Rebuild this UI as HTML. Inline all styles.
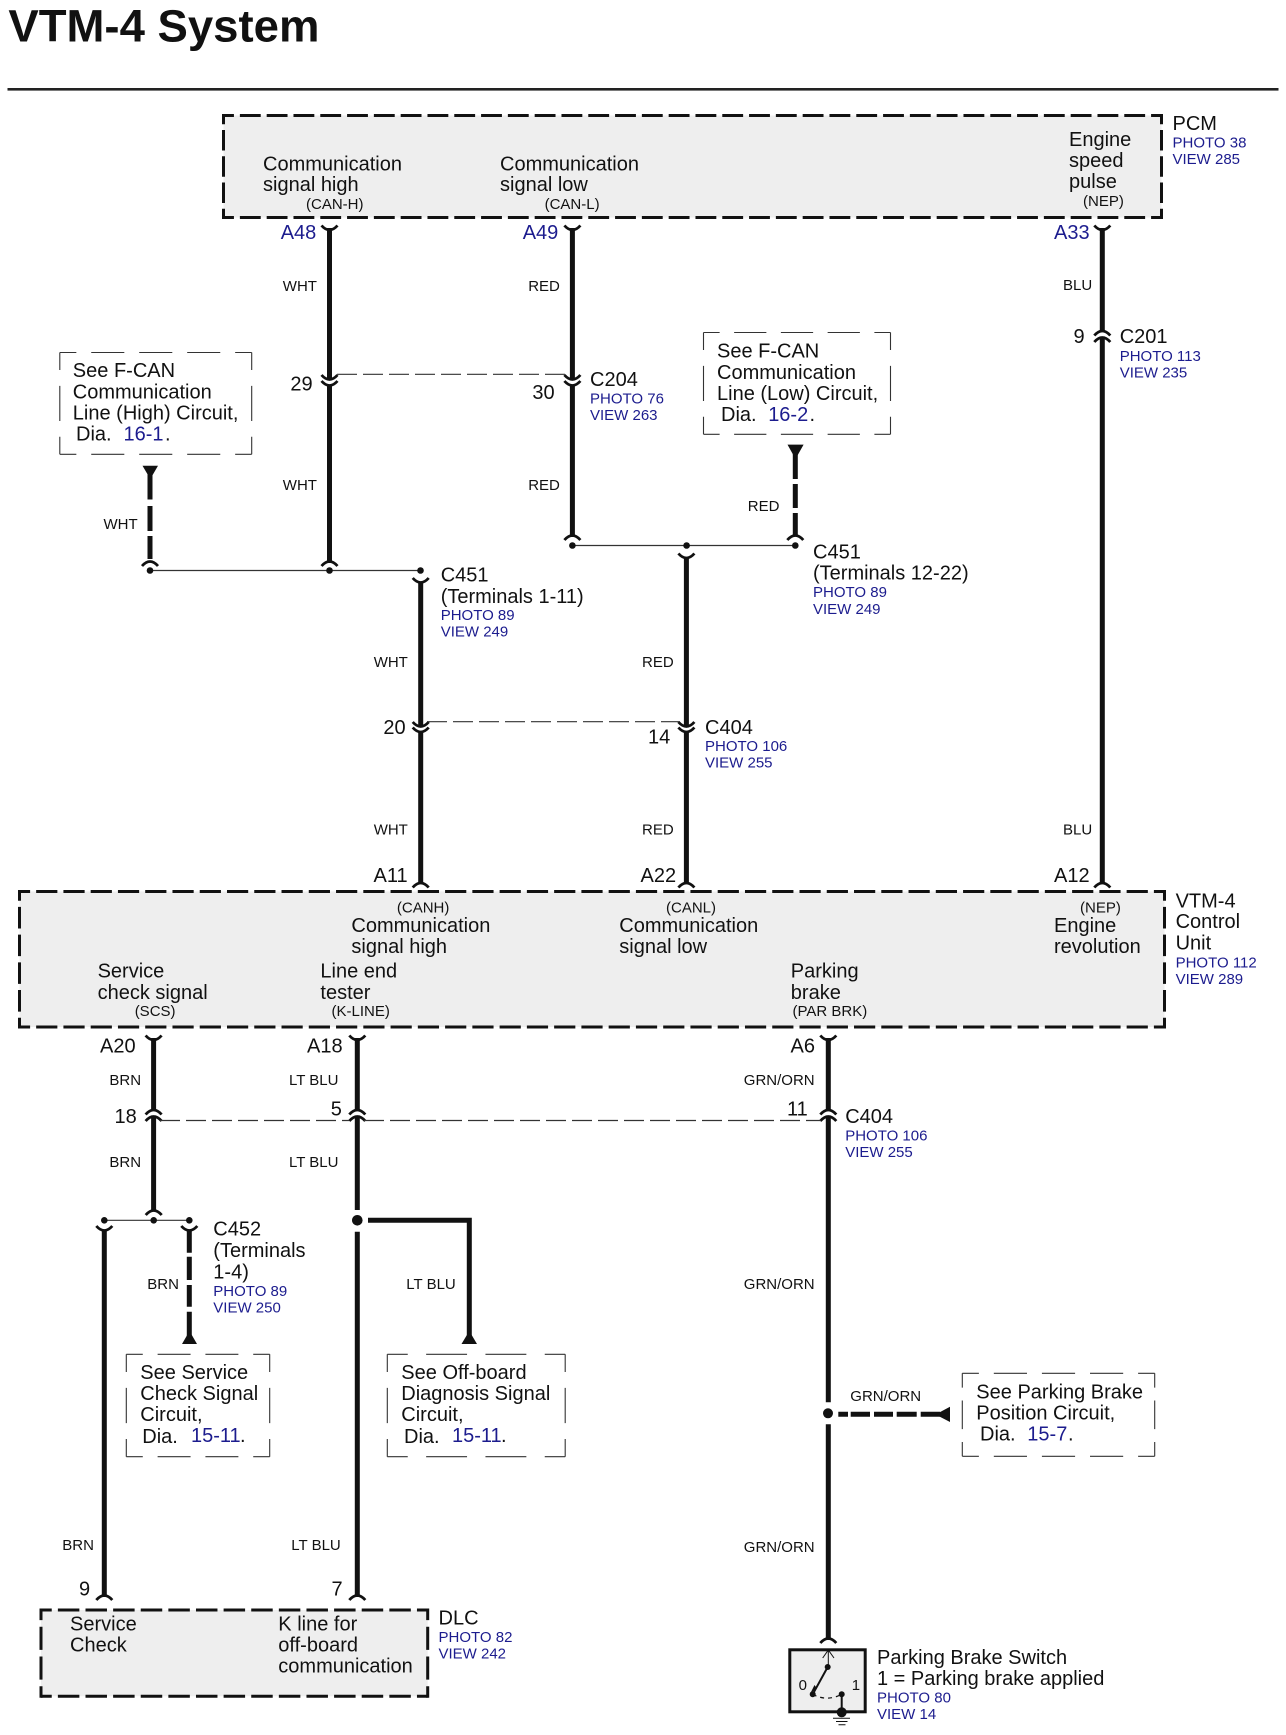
<!DOCTYPE html>
<html>
<head>
<meta charset="utf-8">
<title>VTM-4 System</title>
<style>
html,body{margin:0;padding:0;background:#fff;}
svg{display:block;}
text{font-family:"Liberation Sans",Arial,sans-serif;fill:#111;font-size:20px;}
.s{font-size:15px;}
.b{fill:#1c1c8e;}
.fill{fill:#eeeeee;stroke:none;}
.box{fill:none;stroke:#111;stroke-width:3;stroke-dasharray:21 6;stroke-dashoffset:10.5;}
.thin{fill:none;stroke:#333;stroke-width:1.1;stroke-dasharray:2 .9;stroke-dashoffset:1;}
.w{fill:none;stroke:#111;stroke-width:5;}
.c{fill:none;stroke:#111;stroke-width:2.8;}
.l{fill:none;stroke:#333;stroke-width:1.2;}
.d{fill:none;stroke:#333;stroke-width:1.2;stroke-dasharray:20 6;}
</style>
</head>
<body>
<svg width="1286" height="1735" viewBox="0 0 1286 1735" xmlns="http://www.w3.org/2000/svg">
<rect width="1286" height="1735" fill="#fff"/>

<text x="8.4" y="41.5" style="font-size:45.5px;font-weight:bold">VTM-4 System</text>
<rect x="7.5" y="88" width="1271" height="2.6" fill="#222"/>

<!-- component boxes -->
<rect class="fill" x="223.5" y="115.5" width="938" height="102"/>
<path class="box" pathLength="945" d="M223.5 115.5H1161.5"/>
<path class="box" pathLength="945" d="M223.5 217.5H1161.5"/>
<path class="box" pathLength="108" d="M223.5 114V219"/>
<path class="box" pathLength="108" d="M1161.5 114V219"/>

<rect class="fill" x="19.5" y="891.5" width="1145" height="135.5"/>
<path class="box" pathLength="1134" d="M19.5 891.5H1164.5"/>
<path class="box" pathLength="1134" d="M19.5 1027H1164.5"/>
<path class="box" pathLength="135" d="M19.5 890V1028.5"/>
<path class="box" pathLength="135" d="M1164.5 890V1028.5"/>

<rect class="fill" x="41" y="1610" width="386.7" height="86.3"/>
<path class="box" pathLength="378" d="M41 1610H427.7"/>
<path class="box" pathLength="378" d="M41 1696.3H427.7"/>
<path class="box" pathLength="81" d="M41 1608.5V1697.8"/>
<path class="box" pathLength="81" d="M427.7 1608.5V1697.8"/>

<rect x="789.8" y="1649.8" width="75.4" height="62" fill="#eeeeee" stroke="#111" stroke-width="3"/>

<!-- reference boxes -->
<path class="thin" pathLength="11.6" d="M59.8 352.5H251.7"/><path class="thin" pathLength="11.6" d="M59.8 454.3H251.7"/><path class="thin" pathLength="5.8" d="M59.8 352.5V454.3"/><path class="thin" pathLength="5.8" d="M251.7 352.5V454.3"/>
<path class="thin" pathLength="11.6" d="M703.5 332.5H890.5"/><path class="thin" pathLength="11.6" d="M703.5 434.3H890.5"/><path class="thin" pathLength="5.8" d="M703.5 332.5V434.3"/><path class="thin" pathLength="5.8" d="M890.5 332.5V434.3"/>
<path class="thin" pathLength="8.7" d="M126.3 1354.3H269.7"/><path class="thin" pathLength="8.7" d="M126.3 1456.7H269.7"/><path class="thin" pathLength="5.8" d="M126.3 1354.3V1456.7"/><path class="thin" pathLength="5.8" d="M269.7 1354.3V1456.7"/>
<path class="thin" pathLength="8.7" d="M387.3 1354.3H565.2"/><path class="thin" pathLength="8.7" d="M387.3 1456.7H565.2"/><path class="thin" pathLength="5.8" d="M387.3 1354.3V1456.7"/><path class="thin" pathLength="5.8" d="M565.2 1354.3V1456.7"/>
<path class="thin" pathLength="11.6" d="M962.3 1373.3H1154.7"/><path class="thin" pathLength="11.6" d="M962.3 1456.3H1154.7"/><path class="thin" pathLength="5.8" d="M962.3 1373.3V1456.3"/><path class="thin" pathLength="5.8" d="M1154.7 1373.3V1456.3"/>

<!-- solid wires -->
<path class="w" d="M329.5 228V379.5M329.5 385.5V563M572.4 228V379.5M572.4 385.5V537M1102.3 228V331M1102.3 338V884M420.7 582V726.5M420.7 732V884M686.4 557V726.5M686.4 732V884M153.6 1038V1110M153.6 1117V1210M357.3 1038V1110M357.3 1117V1210M357.3 1231.7V1597M828.3 1038V1110M828.3 1117V1402.3M828.3 1424.3V1640M104.3 1230V1597M368 1220.3H469.3V1336"/>

<!-- dashed thick wires -->
<path class="w" d="M150 474V499.5M150 506V531M150 536V559M795.3 454V479M795.3 484V508M795.3 513V534.5M189.3 1230V1252.7M189.3 1256.7V1280M189.3 1285V1306.7M189.3 1311.7V1336M838.3 1414.3H848M850.7 1414.3H870M874 1414.3H893M896.7 1414.3H916.7M920.7 1414.3H940"/>

<!-- arrow triangles -->
<path fill="#111" d="M142.5 465.7H158L150.3 479ZM787.5 444.6H803.6L795.5 459ZM182 1344H197L189.5 1331ZM461.5 1344H477L469.3 1331ZM950 1406.8V1422L935.5 1414.5Z"/>

<!-- connector cups -->
<path class="c" d="M321.5 225.5q8 9 16 0M564.4 225.5q8 9 16 0M1094.3 225.5q8 9 16 0M321.5 375q8 9 16 0M321.5 381q8 9 16 0M564.4 375q8 9 16 0M564.4 381q8 9 16 0M412.7 578q8 9 16 0M678.4 553.5q8 9 16 0M412.7 722q8 9 16 0M412.7 727.5q8 9 16 0M678.4 722q8 9 16 0M678.4 727.5q8 9 16 0M145.6 1035.5q8 9 16 0M349.3 1035.5q8 9 16 0M820.3 1035.5q8 9 16 0M96.3 1226q8 9 16 0M181.3 1226q8 9 16 0"/>
<!-- connector caps -->
<path class="c" d="M1094.3 335.5q8 -9 16 0M1094.3 342q8 -9 16 0M142 566q8 -9 16 0M321.5 566q8 -9 16 0M564.4 540q8 -9 16 0M787.3 540q8 -9 16 0M145.7 1215q8 -9 16 0M412.7 887.5q8 -9 16 0M678.4 887.5q8 -9 16 0M1094.3 887.5q8 -9 16 0M145.6 1114.5q8 -9 16 0M145.6 1121q8 -9 16 0M349.3 1114.5q8 -9 16 0M349.3 1121q8 -9 16 0M820.3 1114.5q8 -9 16 0M820.3 1121q8 -9 16 0M96.3 1600q8 -9 16 0M349.3 1600q8 -9 16 0M820.3 1643q8 -9 16 0"/>

<!-- thin bus lines -->
<path class="l" d="M150 570.5H420.5M572.4 545.5H795.3M104.3 1220.3H189.3"/>
<!-- dashed shield lines -->
<path class="d" d="M337 374.3H565M427 721.7H680M160 1120.5H349M364 1120.5H821"/>

<!-- dots -->
<g fill="#111">
<circle cx="150" cy="570.5" r="3.3"/><circle cx="329.5" cy="570.5" r="3.3"/><circle cx="420.5" cy="570.5" r="3.3"/>
<circle cx="572.4" cy="545.5" r="3.3"/><circle cx="686.6" cy="545.5" r="3.3"/><circle cx="795.3" cy="545.5" r="3.3"/>
<circle cx="104.3" cy="1220.3" r="3.3"/><circle cx="153.7" cy="1220.3" r="3.3"/><circle cx="189.3" cy="1220.3" r="3.3"/>
<circle cx="357.3" cy="1220.3" r="5.3"/><circle cx="828" cy="1413.3" r="5"/>
</g>

<!-- switch -->
<g fill="#111" stroke="none">
<circle cx="827.7" cy="1667" r="3"/><circle cx="812.7" cy="1694.3" r="3"/><circle cx="841.7" cy="1694.3" r="3"/><circle cx="841.7" cy="1712.3" r="5"/>
<path d="M810.5 1693L817 1688.5L814.5 1685Z"/>
</g>
<path fill="none" stroke="#111" stroke-width="1" d="M828.3 1650V1667M822.7 1658L828.3 1650L834 1658"/>
<path fill="none" stroke="#111" stroke-width="2" d="M827.7 1667L812.7 1694.3M841.7 1694.3V1712"/>
<path fill="none" stroke="#111" stroke-width="1.2" stroke-dasharray="4 4" d="M812.7 1694.3Q827 1702 841.7 1694.3"/>
<path fill="none" stroke="#111" stroke-width="1" d="M833 1718.3H850M836 1721.5H847.5M838.5 1724.7H845.5"/>

<!-- PCM -->
<text x="263" y="170.3">Communication</text><text x="263" y="191">signal high</text><text class="s" x="306" y="209">(CAN-H)</text>
<text x="500" y="170.3">Communication</text><text x="500" y="191">signal low</text><text class="s" x="544.6" y="209">(CAN-L)</text>
<text x="1069" y="146">Engine</text><text x="1069" y="167.2">speed</text><text x="1069" y="188.2">pulse</text><text class="s" x="1083" y="206">(NEP)</text>
<text x="1172.5" y="130">PCM</text><text class="s b" x="1172.5" y="147.3">PHOTO 38</text><text class="s b" x="1172.5" y="164">VIEW 285</text>
<text class="b" x="280.7" y="238.8">A48</text><text class="b" x="522.7" y="238.8">A49</text><text class="b" x="1054" y="238.8">A33</text>

<!-- upper wire labels -->
<text class="s" x="282.8" y="291">WHT</text><text class="s" x="528.2" y="291">RED</text><text class="s" x="1063" y="290">BLU</text>
<text x="290.4" y="390.4">29</text><text x="532.4" y="399.2">30</text>
<text x="590" y="385.8">C204</text><text class="s b" x="590" y="403.7">PHOTO 76</text><text class="s b" x="590" y="420.2">VIEW 263</text>
<text class="s" x="282.8" y="490">WHT</text><text class="s" x="528.2" y="490">RED</text>
<text x="1073.5" y="343.2">9</text><text x="1119.7" y="343.2">C201</text><text class="s b" x="1119.7" y="361.2">PHOTO 113</text><text class="s b" x="1119.7" y="377.6">VIEW 235</text>

<text x="72.8" y="377.2">See F-CAN</text><text x="72.8" y="398.3">Communication</text><text x="72.8" y="419.5">Line (High) Circuit,</text><text x="76" y="440.7">Dia.</text><text class="b" x="123.5" y="440.7">16-1</text><text x="165" y="440.7">.</text>
<text class="s" x="103.5" y="529">WHT</text>

<text x="717" y="357.7">See F-CAN</text><text x="717" y="378.8">Communication</text><text x="717" y="400">Line (Low) Circuit,</text><text x="721" y="420.9">Dia.</text><text class="b" x="768.2" y="420.9">16-2</text><text x="809.5" y="420.9">.</text>
<text class="s" x="747.8" y="511">RED</text>

<text x="440.7" y="581.7">C451</text><text x="440.7" y="602.8">(Terminals 1-11)</text><text class="s b" x="440.7" y="620">PHOTO 89</text><text class="s b" x="440.7" y="636.4">VIEW 249</text>
<text x="813" y="558.3">C451</text><text x="813" y="579.3">(Terminals 12-22)</text><text class="s b" x="813" y="597">PHOTO 89</text><text class="s b" x="813" y="613.8">VIEW 249</text>

<text class="s" x="373.7" y="667">WHT</text><text class="s" x="642" y="667">RED</text>
<text x="383.4" y="734">20</text><text x="648" y="743.5">14</text>
<text x="705" y="734">C404</text><text class="s b" x="705" y="751.2">PHOTO 106</text><text class="s b" x="705" y="767.6">VIEW 255</text>
<text class="s" x="373.7" y="834.6">WHT</text><text class="s" x="642" y="834.6">RED</text><text class="s" x="1063" y="834.6">BLU</text>
<text x="373.5" y="882">A11</text><text x="640.5" y="882">A22</text><text x="1054" y="882">A12</text>

<!-- VTM-4 -->
<text class="s" x="396.9" y="912.7">(CANH)</text><text class="s" x="666" y="912.7">(CANL)</text><text class="s" x="1080" y="912.7">(NEP)</text>
<text x="351.4" y="932.2">Communication</text><text x="351.4" y="953">signal high</text>
<text x="619.3" y="932.2">Communication</text><text x="619.3" y="953">signal low</text>
<text x="1054" y="932.2">Engine</text><text x="1054" y="953">revolution</text>
<text x="97.6" y="977.7">Service</text><text x="97.6" y="998.8">check signal</text><text class="s" x="134.7" y="1016">(SCS)</text>
<text x="320.4" y="977.7">Line end</text><text x="320.4" y="998.8">tester</text><text class="s" x="331.5" y="1016">(K-LINE)</text>
<text x="790.8" y="977.7">Parking</text><text x="790.8" y="998.8">brake</text><text class="s" x="792.5" y="1016">(PAR BRK)</text>
<text x="1175.6" y="907.3">VTM-4</text><text x="1175.6" y="928">Control</text><text x="1175.6" y="949.4">Unit</text><text class="s b" x="1175.6" y="967.4">PHOTO 112</text><text class="s b" x="1175.6" y="983.9">VIEW 289</text>

<!-- lower labels -->
<text x="100" y="1052.7">A20</text><text x="307" y="1052.7">A18</text><text x="790.5" y="1052.7">A6</text>
<text class="s" x="109.4" y="1085">BRN</text><text class="s" x="289" y="1085">LT BLU</text><text class="s" x="743.8" y="1085">GRN/ORN</text>
<text x="114.5" y="1123.2">18</text><text x="330.8" y="1115.5">5</text><text x="787" y="1115.5">11</text>
<text x="845.2" y="1123.2">C404</text><text class="s b" x="845.2" y="1140.4">PHOTO 106</text><text class="s b" x="845.2" y="1157.2">VIEW 255</text>
<text class="s" x="109.4" y="1166.8">BRN</text><text class="s" x="289" y="1166.8">LT BLU</text>

<text x="213.3" y="1235.7">C452</text><text x="213.3" y="1257">(Terminals</text><text x="213.3" y="1278.3">1-4)</text><text class="s b" x="213.3" y="1296">PHOTO 89</text><text class="s b" x="213.3" y="1312.7">VIEW 250</text>
<text class="s" x="147.3" y="1289">BRN</text><text class="s" x="406.3" y="1289">LT BLU</text><text class="s" x="743.8" y="1289">GRN/ORN</text>

<text x="140.3" y="1379">See Service</text><text x="140.3" y="1400">Check Signal</text><text x="140.3" y="1421">Circuit,</text><text x="142.3" y="1443">Dia.</text><text class="b" x="191" y="1442">15-11</text><text x="240" y="1442">.</text>
<text x="401.3" y="1379">See Off-board</text><text x="401.3" y="1400">Diagnosis Signal</text><text x="401.3" y="1421">Circuit,</text><text x="404" y="1443">Dia.</text><text class="b" x="452" y="1442">15-11</text><text x="501" y="1442">.</text>

<text class="s" x="850.3" y="1401">GRN/ORN</text>
<text x="976.3" y="1398.3">See Parking Brake</text><text x="976.3" y="1419.3">Position Circuit,</text><text x="980" y="1440.7">Dia.</text><text class="b" x="1027.3" y="1440.7">15-7</text><text x="1068" y="1440.7">.</text>

<text class="s" x="62.3" y="1550">BRN</text><text class="s" x="291.3" y="1550">LT BLU</text><text class="s" x="743.8" y="1552">GRN/ORN</text>
<text x="79" y="1595.7">9</text><text x="331.5" y="1595.7">7</text>

<!-- DLC -->
<text x="70" y="1630.7">Service</text><text x="70" y="1651.7">Check</text>
<text x="278.3" y="1630.7">K line for</text><text x="278.3" y="1651.7">off-board</text><text x="278.3" y="1672.7">communication</text>
<text x="438.5" y="1624.3">DLC</text><text class="s b" x="438.5" y="1642">PHOTO 82</text><text class="s b" x="438.5" y="1658.3">VIEW 242</text>

<!-- switch labels -->
<text class="s" x="798.6" y="1690">0</text><text class="s" x="851.8" y="1690">1</text>
<text x="877" y="1664">Parking Brake Switch</text><text x="877" y="1685">1 = Parking brake applied</text><text class="s b" x="877" y="1702.7">PHOTO 80</text><text class="s b" x="877" y="1719">VIEW 14</text>
</svg>
</body>
</html>
